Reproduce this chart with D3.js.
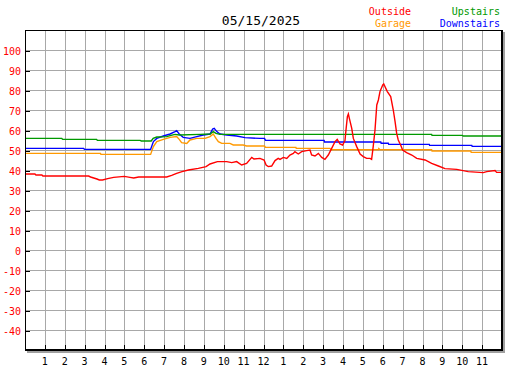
<!DOCTYPE html>
<html>
<head>
<meta charset="utf-8">
<script src="https://cdn.jsdelivr.net/npm/d3@7"></script>
<style>
    body { margin: 0; background: #fff; }
    text { font-family: "DejaVu Sans Mono", monospace; }
</style>
</head>
<body>
<div id="chart"></div>
<script>
// hour-of-day labels along the bottom
var hourLabels = ["1","2","3","4","5","6","7","8","9","10","11","12",
                  "1","2","3","4","5","6","7","8","9","10","11"];
var tempTicks = [100, 90, 80, 70, 60, 50, 40, 30, 20, 10, 0, -10, -20, -30, -40];

// [hour, temperature]
var outside = [[0,38],[0.5,38],[0.55,37.5],[0.85,37.5],[0.9,37],[3.2,37],[3.3,36.5],[3.46,36],
    [3.62,35.5],[3.74,35],[3.9,35],[4.16,35.7],[4.46,36.3],[5.0,36.8],[5.28,36.3],[5.47,36],
    [5.72,36.5],[7.13,36.5],[7.38,37.3],[7.63,38.3],[7.9,39.2],[8.22,40],[8.72,40.8],[9.11,41.7],
    [9.31,43],[9.68,44.2],[10.15,44.2],[10.4,43.7],[10.65,44.2],[10.9,42.5],[11.15,43.3],
    [11.41,46.3],[11.52,45.5],[11.82,45.8],[12.03,45],[12.13,42.5],[12.24,41.7],[12.41,42],
    [12.58,44.7],[12.74,45.8],[12.83,45.3],[13.0,46.3],[13.17,45.8],[13.33,47.5],[13.5,48.3],
    [13.58,49.2],[13.75,48],[13.92,49.2],[14.17,49.7],[14.34,50],[14.42,47.5],[14.59,47],
    [14.76,48.3],[14.93,46.3],[15.09,45.3],[15.26,47.5],[15.43,50.8],[15.6,54.2],[15.71,55.3],
    [15.85,53],[15.98,52.5],[16.1,54.7],[16.15,60],[16.22,66.7],[16.27,68],[16.32,65.8],
    [16.44,60.8],[16.52,55.8],[16.69,51.7],[16.86,48],[17.02,46.7],[17.19,45.8],[17.36,45.8],
    [17.44,45.3],[17.52,51.7],[17.61,60],[17.7,72.5],[17.78,75],[17.86,79.2],[18.0,82.5],
    [18.05,83],[18.23,79.2],[18.4,76.7],[18.53,70],[18.62,64.2],[18.7,58.3],[18.78,55],
    [18.9,52.5],[19.0,50],[19.2,48.7],[19.46,47.5],[19.71,45.8],[20.13,45],[20.46,43.3],
    [20.8,42],[21.13,40.7],[21.72,40.3],[22.3,39.2],[23.06,38.7],[23.23,39.2],[23.65,39.7],
    [23.73,38.8],[24,38.8]];

var garage = [[0,48.3],[3.8,48.3],[3.82,47.8],[6.32,47.8],[6.46,51.7],[6.63,54.2],[6.96,55.3],
    [7.3,56.3],[7.63,56.7],[7.76,55.3],[7.88,53.7],[8.14,53.3],[8.3,55],[8.64,55.8],[9.06,55.8],
    [9.31,56.7],[9.47,58],[9.61,55.8],[9.73,54.2],[9.9,53.3],[10.31,53.3],[10.48,52.5],
    [10.98,52.5],[11.15,52],[12.05,52],[12.1,51.3],[13.63,51.3],[13.65,50.8],[15.35,50.8],
    [15.4,50.1],[17.78,50.1],[17.8,50.7],[17.86,50.1],[20.46,50.1],[20.48,49.5],[22.43,49.5],
    [22.45,48.8],[24,48.8]];

var upstairs = [[0,55.8],[1.85,55.8],[1.9,55.3],[3.6,55.3],[3.65,54.8],[5.8,54.8],[5.85,54.5],
    [6.35,54.5],[6.45,55.8],[6.63,56.5],[7.13,56.7],[7.3,57.2],[7.55,57.8],[7.76,57.5],
    [8.81,57.8],[9.31,58],[9.47,59.2],[9.61,58.3],[9.81,57.8],[20.46,57.8],[20.48,57.3],
    [22.0,57.3],[22.05,57],[24,57]];

var downstairs = [[0,50.8],[2.95,50.8],[3.0,50.3],[6.32,50.3],[6.46,54.2],[6.63,55.8],[6.96,57],
    [7.3,58],[7.55,59.2],[7.63,59.7],[7.76,58],[7.96,56.3],[8.3,55.8],[8.64,56.7],[8.97,57.5],
    [9.31,58],[9.44,60.5],[9.52,60.8],[9.65,59.2],[9.81,58],[10.15,57.5],[10.65,57],[11.07,56.2],
    [11.82,55.8],[12.05,55.8],[12.1,54.8],[15.05,54.8],[15.07,54],[17.9,54],[17.92,53.4],
    [18.28,53.4],[18.3,52.8],[20.34,52.8],[20.36,52.3],[22.48,52.3],[22.5,51.8],[24,51.8]];

var series = [
    {name: "Garage", data: garage, color: "#ff9900"},
    {name: "Downstairs", data: downstairs, color: "#0000ff"},
    {name: "Upstairs", data: upstairs, color: "#009900"},
    {name: "Outside", data: outside, color: "#ff0000"}
];

var c = {left: 25, top: 30, right: 502, bottom: 350};

var svg = d3.select("#chart").append("svg")
    .attr("width", 527)
    .attr("height", 370);

var x = d3.scaleLinear().domain([0, 24]).range([c.left, c.right]);
var y = d3.scaleLinear().domain([-50, 110]).range([c.bottom, c.top]);

//gridlines
var grid = svg.append("g").attr("stroke", "#a8a8a8").attr("shape-rendering", "crispEdges");
grid.selectAll(".vgrid").data(d3.range(1, 24)).enter().append("line")
    .attr("x1", function (d) { return Math.round(x(d)) + 0.5; })
    .attr("x2", function (d) { return Math.round(x(d)) + 0.5; })
    .attr("y1", c.top).attr("y2", c.bottom);
grid.selectAll(".hgrid").data(tempTicks).enter().append("line")
    .attr("y1", function (d) { return y(d) + 0.5; })
    .attr("y2", function (d) { return y(d) + 0.5; })
    .attr("x1", c.left).attr("x2", c.right);

//shadow on right and bottom
svg.append("rect").attr("x", c.right + 1).attr("y", c.top + 2).attr("width", 2)
    .attr("height", c.bottom - c.top + 1).attr("fill", "#a0a0a0");
svg.append("rect").attr("x", c.left + 2).attr("y", c.bottom + 1).attr("width", c.right - c.left + 1)
    .attr("height", 2).attr("fill", "#a0a0a0");

//data lines
var line = d3.line()
    .x(function (d) { return x(d[0]); })
    .y(function (d) { return y(d[1]); });

svg.selectAll(".series").data(series).enter().append("path")
    .attr("class", "series")
    .attr("fill", "none")
    .attr("stroke", function (d) { return d.color; })
    .attr("stroke-width", 1.4)
    .attr("d", function (d) { return line(d.data); });

//frame
var frame = svg.append("g").attr("shape-rendering", "crispEdges");
frame.append("line").attr("x1", c.left + 0.5).attr("x2", c.left + 0.5)
    .attr("y1", c.top).attr("y2", c.bottom + 1).attr("stroke", "#000");
frame.append("line").attr("x1", c.left).attr("x2", c.right + 1)
    .attr("y1", c.top + 0.5).attr("y2", c.top + 0.5).attr("stroke", "#000");
frame.append("line").attr("x1", c.right).attr("x2", c.right)
    .attr("y1", c.top).attr("y2", c.bottom + 1).attr("stroke", "#000").attr("stroke-width", 2);
frame.append("line").attr("x1", c.left).attr("x2", c.right + 1)
    .attr("y1", c.bottom).attr("y2", c.bottom).attr("stroke", "#000").attr("stroke-width", 2);

//axes: y on the left with red labels
var yAxis = svg.append("g")
    .attr("transform", "translate(" + c.left + ",0)")
    .call(d3.axisRight(y).tickValues(tempTicks).tickSize(5).tickFormat(function () { return ""; }));
yAxis.select(".domain").remove();
yAxis.selectAll(".tick line").attr("stroke", "#000").attr("shape-rendering", "crispEdges")
    .attr("transform", "translate(0,0.5)");

svg.selectAll(".ylabel").data(tempTicks).enter().append("text")
    .attr("class", "ylabel")
    .attr("x", 21)
    .attr("y", function (d) { return y(d) + 4.5; })
    .attr("text-anchor", "end")
    .attr("font-size", 10)
    .attr("fill", "#ff0000")
    .text(function (d) { return d; });

var xAxis = svg.append("g")
    .attr("transform", "translate(0," + c.bottom + ")")
    .call(d3.axisTop(x).tickValues(d3.range(1, 24)).tickSize(5).tickFormat(function () { return ""; }));
xAxis.select(".domain").remove();
xAxis.selectAll(".tick line").attr("stroke", "#000").attr("shape-rendering", "crispEdges");

svg.selectAll(".xlabel").data(hourLabels).enter().append("text")
    .attr("class", "xlabel")
    .attr("x", function (d, i) { return x(i + 1); })
    .attr("y", 365)
    .attr("text-anchor", "middle")
    .attr("font-size", 10)
    .attr("fill", "#000")
    .text(function (d) { return d; });

//title + legend
svg.append("text")
    .attr("x", 261).attr("y", 25)
    .attr("text-anchor", "middle")
    .attr("font-size", 13)
    .text("05/15/2025");

var legend = [
    {name: "Outside", color: "#ff0000", x: 411, y: 15},
    {name: "Garage", color: "#ff9900", x: 411, y: 27},
    {name: "Upstairs", color: "#009900", x: 500, y: 15},
    {name: "Downstairs", color: "#0000ff", x: 500, y: 27}
];
svg.selectAll(".legend").data(legend).enter().append("text")
    .attr("class", "legend")
    .attr("x", function (d) { return d.x; })
    .attr("y", function (d) { return d.y; })
    .attr("text-anchor", "end")
    .attr("font-size", 10)
    .attr("fill", function (d) { return d.color; })
    .text(function (d) { return d.name; });
</script>
</body>
</html>
